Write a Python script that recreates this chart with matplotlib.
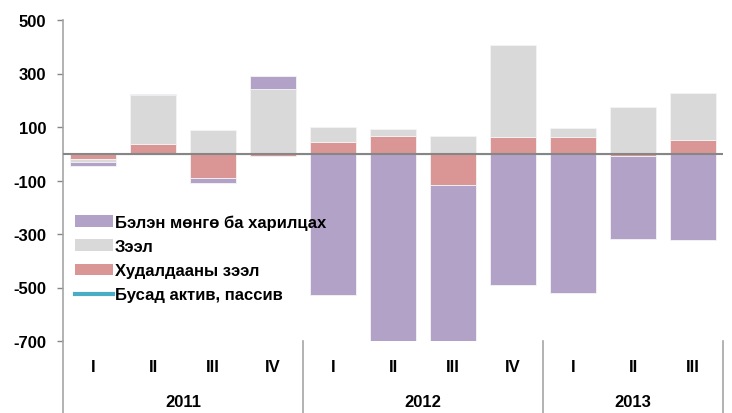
import numpy as np
import matplotlib.pyplot as plt
from matplotlib.patches import Patch
from matplotlib.lines import Line2D

plt.rcParams['font.family'] = ['Liberation Sans Narrow', 'Liberation Sans', 'DejaVu Sans']
plt.rcParams['font.weight'] = 'bold'

# data
quarters = ['I', 'II', 'III', 'IV', 'I', 'II', 'III', 'IV', 'I', 'II', 'III']
years = ['2011', '2012', '2013']
year_sizes = [4, 4, 3]

trade_credit = [-21, 36, -89, -8, 43, 65, -118, 61, 61, -9, 51]
loans = [-10, 182, 87, 243, 57, 26, 68, 344, 35, 173, 177]
cash = [-15, 4, -19, 49, -527, -745, -630, -492, -522, -308, -322]
other = [0, 0, 0, 0, 0, 0, 0, 0, 0, 0, 0]

labels = ['Бэлэн мөнгө ба харилцах', 'Зээл', 'Худалдааны зээл', 'Бусад актив, пассив']
c_cash = '#B3A2C7'
c_loan = '#D9D9D9'
c_trade = '#D99694'
c_other = '#4BACC6'

fig = plt.figure(figsize=(7.32, 4.14), dpi=100)
ax = fig.add_axes([63/732, 1-342/414, (723-63)/732, (342-21)/414])

x = np.arange(len(quarters))
pos_b = np.zeros(len(x))
neg_b = np.zeros(len(x))
for vals, col in [(trade_credit, c_trade), (loans, c_loan), (cash, c_cash)]:
    v = np.array(vals, dtype=float)
    b = np.where(v >= 0, pos_b, neg_b)
    ax.bar(x, v, bottom=b, width=0.77, color=col, edgecolor='#F4F4F4', linewidth=0.6, zorder=2)
    pos_b += np.where(v >= 0, v, 0)
    neg_b += np.where(v < 0, v, 0)

# line series sits on zero, hidden under the axis line
ax.plot(x, other, color=c_other, linewidth=0.8, zorder=1)
ax.axhline(0, color='#868686', linewidth=1.5, zorder=3)

ax.set_xlim(-0.5, len(x) - 0.5)
ax.set_ylim(-700, 500)
ax.set_yticks(np.arange(-700, 501, 200))
ax.set_yticklabels([str(t) for t in range(-700, 501, 200)], fontsize=12, fontweight='bold')
ax.tick_params(axis='y', length=4, width=1, color='#868686', pad=8)
ax.set_xticks([])
for s in ['top', 'right', 'bottom']:
    ax.spines[s].set_visible(False)
ax.spines['left'].set_color('#A6A6A6')
ax.spines['left'].set_linewidth(1.2)

# category labels and group separators
trans = ax.get_xaxis_transform()
for i, q in enumerate(quarters):
    ax.text(x[i], -0.08, q, transform=trans, ha='center', va='center', fontsize=12, fontweight='bold')
start = 0
seps = [-0.5]
for yr, n in zip(years, year_sizes):
    ax.text(start + (n - 1) / 2, -0.19, yr, transform=trans, ha='center', va='center', fontsize=12, fontweight='bold')
    start += n
    seps.append(start - 0.5)
for s in seps:
    ax.plot([s, s], [0, -0.23], transform=trans, color='#A6A6A6', linewidth=1.2, clip_on=False)

handles = [Patch(facecolor=c_cash), Patch(facecolor=c_loan), Patch(facecolor=c_trade),
           Line2D([0], [0], color=c_other, linewidth=3)]
ax.legend(handles, labels, loc='upper left', bbox_to_anchor=(0.008, 0.415), frameon=False,
          fontsize=12, handlelength=2.3, handleheight=0.7, handletextpad=0.1, labelspacing=0.55,
          borderaxespad=0)

fig.savefig('out.png', dpi=100)
